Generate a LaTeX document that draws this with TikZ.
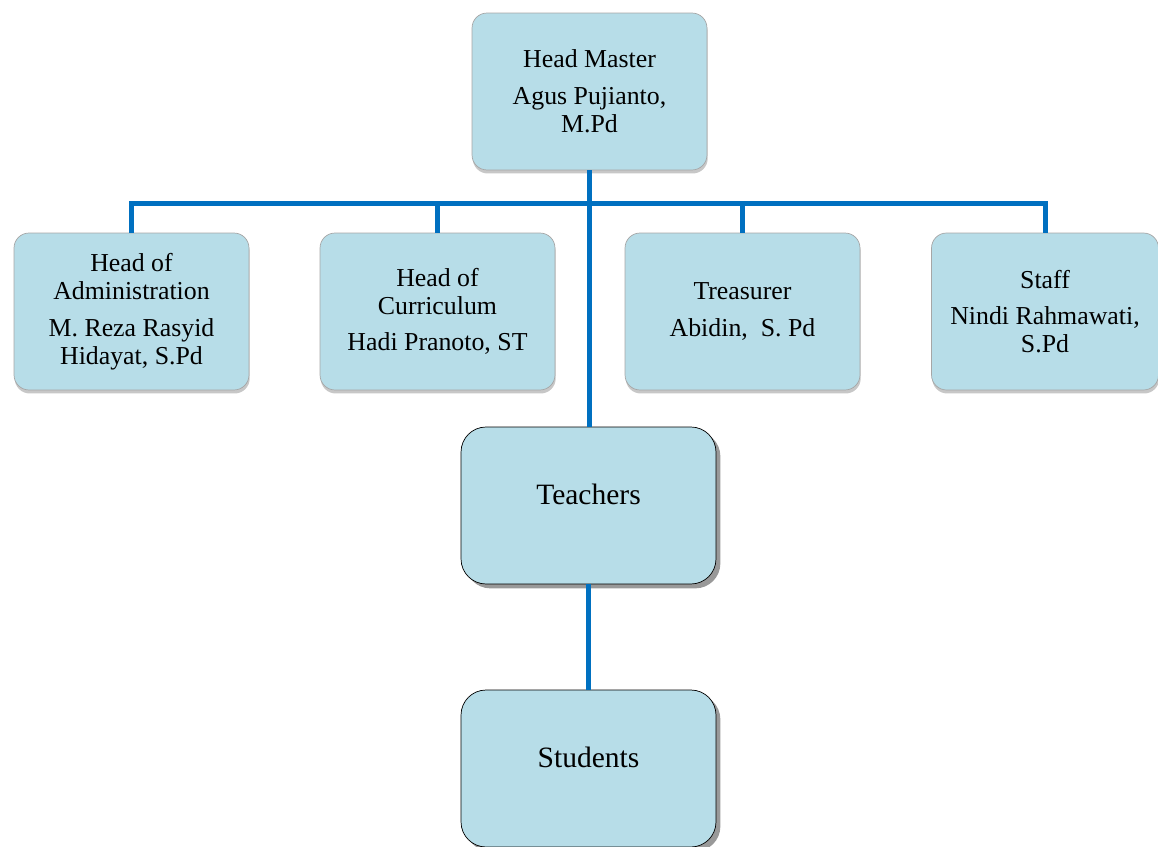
\documentclass[tikz,border=0pt]{standalone}
\usepackage{fontspec}
\setmainfont{Liberation Serif}
\usetikzlibrary{positioning,shadows}
\definecolor{boxfill}{RGB}{183,221,232}
\definecolor{linkblue}{RGB}{0,112,192}
\tikzset{
  unitbox/.style={rectangle,rounded corners=0.3cm,draw=gray!70,fill=boxfill,
    minimum width=4.7cm,minimum height=3.14cm,align=center,inner sep=2pt,
    drop shadow={shadow xshift=0.4pt,shadow yshift=-2pt,fill=black,opacity=0.22}},
  groupbox/.style={rectangle,rounded corners=0.5cm,draw=black,fill=boxfill,
    minimum width=5.1cm,minimum height=3.14cm,align=center,text depth=0.44cm,
    font=\fontsize{16.8pt}{18pt}\selectfont,
    drop shadow={shadow xshift=2.5pt,shadow yshift=-2.5pt,fill=gray!80,opacity=1}},
  link/.style={line width=0.1cm,draw=linkblue}
}

\begin{document}
\begin{tikzpicture}[x=0.02cm,y=-0.02cm,
  every node/.style={font=\fontsize{14.7pt}{15.9pt}\selectfont}]

\useasboundingbox (0,0) rectangle (1158,847);

% Head of the school
\node[unitbox] (head) at (589.5,91.5) {Head Master\\[5pt]Agus Pujianto,\\M.Pd};

% Second row
\node[unitbox] (admin) at (131.5,311.5) {Head of\\Administration\\[5pt]M. Reza Rasyid\\Hidayat, S.Pd};
\node[unitbox] (curric) at (437.5,311.5) {Head of\\Curriculum\\[5pt]Hadi Pranoto, ST};
\node[unitbox] (treas) at (742.5,311.5) {Treasurer\\[5pt]Abidin,\ \ S. Pd};
\node[unitbox,minimum width=4.54cm] (staff) at (1045,311.5) {Staff\\[5pt]Nindi Rahmawati,\\S.Pd};

% Lower groups
\node[groupbox] (teachers) at (588.5,505.5) {Teachers};
\node[groupbox] (students) at (588.5,768.5) {Students};

% Bus line
\coordinate (bus) at (590,204);

% Connections
\draw[link] (admin.north) -- (admin.north |- bus) -- (staff.north |- bus) -- (staff.north);
\draw[link] (curric.north) -- (curric.north |- bus);
\draw[link] (treas.north) -- (treas.north |- bus);
\draw[link] (head.south) -- (head.south |- teachers.north);
\draw[link] (teachers.south) -- (students.north);

\end{tikzpicture}
\end{document}
